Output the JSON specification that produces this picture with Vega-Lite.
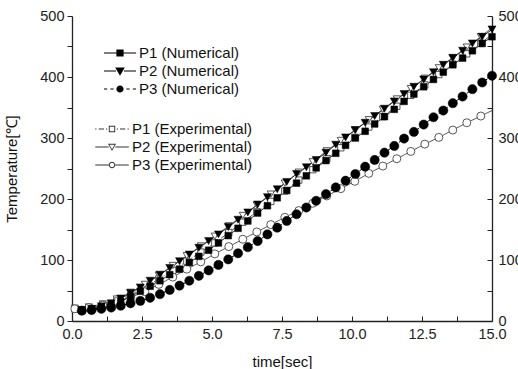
{
  "$schema": "https://vega.github.io/schema/vega-lite/v6.json",
  "width": 420,
  "height": 305,
  "autosize": {"type": "none"},
  "padding": {"left": 72, "top": 16, "right": 26, "bottom": 48},
  "background": "white",
  "config": {
    "view": {"stroke": null},
    "font": "Liberation Sans",
    "axis": {
      "grid": false,
      "domainColor": "#222",
      "domainWidth": 1.3,
      "tickColor": "#222",
      "tickWidth": 1,
      "labelFont": "Liberation Sans",
      "labelFontSize": 14.5,
      "labelColor": "#222",
      "titleFont": "Liberation Sans",
      "titleFontSize": 15,
      "titleFontWeight": "normal",
      "titleColor": "#111"
    }
  },
  "datasets": {
    "num": [
      {"t": 0.35, "P1 (Numerical)": 17, "P2 (Numerical)": 18, "P3 (Numerical)": 17},
      {"t": 0.70, "P1 (Numerical)": 19, "P2 (Numerical)": 20, "P3 (Numerical)": 18},
      {"t": 1.05, "P1 (Numerical)": 22, "P2 (Numerical)": 24, "P3 (Numerical)": 20},
      {"t": 1.40, "P1 (Numerical)": 26, "P2 (Numerical)": 29, "P3 (Numerical)": 22},
      {"t": 1.74, "P1 (Numerical)": 32, "P2 (Numerical)": 37, "P3 (Numerical)": 25},
      {"t": 2.09, "P1 (Numerical)": 40, "P2 (Numerical)": 46, "P3 (Numerical)": 29},
      {"t": 2.44, "P1 (Numerical)": 49, "P2 (Numerical)": 55, "P3 (Numerical)": 33},
      {"t": 2.79, "P1 (Numerical)": 57, "P2 (Numerical)": 66, "P3 (Numerical)": 38},
      {"t": 3.14, "P1 (Numerical)": 66, "P2 (Numerical)": 76, "P3 (Numerical)": 44},
      {"t": 3.49, "P1 (Numerical)": 76, "P2 (Numerical)": 87, "P3 (Numerical)": 51},
      {"t": 3.84, "P1 (Numerical)": 85, "P2 (Numerical)": 98, "P3 (Numerical)": 58},
      {"t": 4.19, "P1 (Numerical)": 96, "P2 (Numerical)": 109, "P3 (Numerical)": 66},
      {"t": 4.53, "P1 (Numerical)": 106, "P2 (Numerical)": 120, "P3 (Numerical)": 74},
      {"t": 4.88, "P1 (Numerical)": 116, "P2 (Numerical)": 131, "P3 (Numerical)": 83},
      {"t": 5.23, "P1 (Numerical)": 128, "P2 (Numerical)": 142, "P3 (Numerical)": 92},
      {"t": 5.58, "P1 (Numerical)": 140, "P2 (Numerical)": 154, "P3 (Numerical)": 101},
      {"t": 5.93, "P1 (Numerical)": 152, "P2 (Numerical)": 166, "P3 (Numerical)": 111},
      {"t": 6.28, "P1 (Numerical)": 164, "P2 (Numerical)": 178, "P3 (Numerical)": 121},
      {"t": 6.63, "P1 (Numerical)": 177, "P2 (Numerical)": 191, "P3 (Numerical)": 131},
      {"t": 6.98, "P1 (Numerical)": 189, "P2 (Numerical)": 203, "P3 (Numerical)": 142},
      {"t": 7.33, "P1 (Numerical)": 202, "P2 (Numerical)": 216, "P3 (Numerical)": 153},
      {"t": 7.67, "P1 (Numerical)": 214, "P2 (Numerical)": 228, "P3 (Numerical)": 164},
      {"t": 8.02, "P1 (Numerical)": 226, "P2 (Numerical)": 241, "P3 (Numerical)": 175},
      {"t": 8.37, "P1 (Numerical)": 238, "P2 (Numerical)": 252, "P3 (Numerical)": 186},
      {"t": 8.72, "P1 (Numerical)": 251, "P2 (Numerical)": 264, "P3 (Numerical)": 197},
      {"t": 9.07, "P1 (Numerical)": 263, "P2 (Numerical)": 276, "P3 (Numerical)": 208},
      {"t": 9.42, "P1 (Numerical)": 275, "P2 (Numerical)": 289, "P3 (Numerical)": 219},
      {"t": 9.77, "P1 (Numerical)": 288, "P2 (Numerical)": 301, "P3 (Numerical)": 230},
      {"t": 10.12, "P1 (Numerical)": 300, "P2 (Numerical)": 313, "P3 (Numerical)": 241},
      {"t": 10.47, "P1 (Numerical)": 311, "P2 (Numerical)": 325, "P3 (Numerical)": 253},
      {"t": 10.81, "P1 (Numerical)": 323, "P2 (Numerical)": 336, "P3 (Numerical)": 264},
      {"t": 11.16, "P1 (Numerical)": 335, "P2 (Numerical)": 348, "P3 (Numerical)": 276},
      {"t": 11.51, "P1 (Numerical)": 347, "P2 (Numerical)": 360, "P3 (Numerical)": 287},
      {"t": 11.86, "P1 (Numerical)": 360, "P2 (Numerical)": 372, "P3 (Numerical)": 299},
      {"t": 12.21, "P1 (Numerical)": 372, "P2 (Numerical)": 384, "P3 (Numerical)": 310},
      {"t": 12.56, "P1 (Numerical)": 384, "P2 (Numerical)": 396, "P3 (Numerical)": 322},
      {"t": 12.91, "P1 (Numerical)": 396, "P2 (Numerical)": 408, "P3 (Numerical)": 334},
      {"t": 13.26, "P1 (Numerical)": 408, "P2 (Numerical)": 420, "P3 (Numerical)": 345},
      {"t": 13.60, "P1 (Numerical)": 420, "P2 (Numerical)": 431, "P3 (Numerical)": 357},
      {"t": 13.95, "P1 (Numerical)": 431, "P2 (Numerical)": 443, "P3 (Numerical)": 368},
      {"t": 14.30, "P1 (Numerical)": 443, "P2 (Numerical)": 455, "P3 (Numerical)": 380},
      {"t": 14.65, "P1 (Numerical)": 455, "P2 (Numerical)": 466, "P3 (Numerical)": 391},
      {"t": 15.00, "P1 (Numerical)": 466, "P2 (Numerical)": 478, "P3 (Numerical)": 402}
    ],
    "exp": [
      {"t": 0.1, "P1 (Experimental)": 20, "P2 (Experimental)": 21, "P3 (Experimental)": 20},
      {"t": 0.6, "P1 (Experimental)": 22, "P2 (Experimental)": 23, "P3 (Experimental)": 22},
      {"t": 1.1, "P1 (Experimental)": 26, "P2 (Experimental)": 28, "P3 (Experimental)": 26},
      {"t": 1.6, "P1 (Experimental)": 33, "P2 (Experimental)": 36, "P3 (Experimental)": 32},
      {"t": 2.1, "P1 (Experimental)": 43, "P2 (Experimental)": 47, "P3 (Experimental)": 39},
      {"t": 2.6, "P1 (Experimental)": 55, "P2 (Experimental)": 60, "P3 (Experimental)": 48},
      {"t": 3.1, "P1 (Experimental)": 69, "P2 (Experimental)": 75, "P3 (Experimental)": 60},
      {"t": 3.6, "P1 (Experimental)": 83, "P2 (Experimental)": 91, "P3 (Experimental)": 72},
      {"t": 4.1, "P1 (Experimental)": 98, "P2 (Experimental)": 107, "P3 (Experimental)": 85},
      {"t": 4.6, "P1 (Experimental)": 113, "P2 (Experimental)": 123, "P3 (Experimental)": 97},
      {"t": 5.1, "P1 (Experimental)": 128, "P2 (Experimental)": 139, "P3 (Experimental)": 110},
      {"t": 5.6, "P1 (Experimental)": 145, "P2 (Experimental)": 156, "P3 (Experimental)": 122},
      {"t": 6.1, "P1 (Experimental)": 162, "P2 (Experimental)": 173, "P3 (Experimental)": 134},
      {"t": 6.6, "P1 (Experimental)": 179, "P2 (Experimental)": 190, "P3 (Experimental)": 146},
      {"t": 7.1, "P1 (Experimental)": 196, "P2 (Experimental)": 208, "P3 (Experimental)": 158},
      {"t": 7.6, "P1 (Experimental)": 213, "P2 (Experimental)": 226, "P3 (Experimental)": 170},
      {"t": 8.1, "P1 (Experimental)": 231, "P2 (Experimental)": 244, "P3 (Experimental)": 181},
      {"t": 8.6, "P1 (Experimental)": 248, "P2 (Experimental)": 261, "P3 (Experimental)": 193},
      {"t": 9.1, "P1 (Experimental)": 266, "P2 (Experimental)": 279, "P3 (Experimental)": 205},
      {"t": 9.6, "P1 (Experimental)": 284, "P2 (Experimental)": 296, "P3 (Experimental)": 217},
      {"t": 10.1, "P1 (Experimental)": 301, "P2 (Experimental)": 313, "P3 (Experimental)": 229},
      {"t": 10.6, "P1 (Experimental)": 318, "P2 (Experimental)": 330, "P3 (Experimental)": 242},
      {"t": 11.1, "P1 (Experimental)": 335, "P2 (Experimental)": 347, "P3 (Experimental)": 254},
      {"t": 11.6, "P1 (Experimental)": 352, "P2 (Experimental)": 364, "P3 (Experimental)": 266},
      {"t": 12.1, "P1 (Experimental)": 370, "P2 (Experimental)": 381, "P3 (Experimental)": 278},
      {"t": 12.6, "P1 (Experimental)": 387, "P2 (Experimental)": 398, "P3 (Experimental)": 290},
      {"t": 13.1, "P1 (Experimental)": 404, "P2 (Experimental)": 415, "P3 (Experimental)": 301},
      {"t": 13.6, "P1 (Experimental)": 421, "P2 (Experimental)": 432, "P3 (Experimental)": 313},
      {"t": 14.1, "P1 (Experimental)": 438, "P2 (Experimental)": 449, "P3 (Experimental)": 325},
      {"t": 14.6, "P1 (Experimental)": 455, "P2 (Experimental)": 466, "P3 (Experimental)": 336},
      {"t": 15.0, "P1 (Experimental)": 470, "P2 (Experimental)": 481, "P3 (Experimental)": 345}
    ]
  },
  "encoding": {
    "x": {
      "field": "t",
      "type": "quantitative",
      "scale": {"domain": [0, 15], "nice": false, "zero": false},
      "axis": {
        "title": "time[sec]",
        "values": [0, 1.25, 2.5, 3.75, 5, 6.25, 7.5, 8.75, 10, 11.25, 12.5, 13.75, 15],
        "labelExpr": "datum.value % 2.5 === 0 ? format(datum.value, '.1f') : ''",
        "tickSize": -5,
        "labelPadding": 11,
        "titlePadding": 14,
        "labelFlush": false,
        "labelOverlap": false
      }
    }
  },
  "layer": [
    {
      "data": {"name": "num"},
      "transform": [{"fold": ["P1 (Numerical)", "P2 (Numerical)", "P3 (Numerical)"], "as": ["s", "v"]}],
      "mark": {"type": "line", "color": "black", "strokeWidth": 1},
      "encoding": {
        "y": {
          "field": "v",
          "type": "quantitative",
          "scale": {"domain": [0, 500], "nice": false},
          "axis": {
            "title": "Temperature[℃]",
            "orient": "left",
            "values": [0, 50, 100, 150, 200, 250, 300, 350, 400, 450, 500],
            "labelExpr": "datum.value % 100 === 0 ? datum.label : ''",
            "tickSize": 5,
            "labelPadding": 3,
            "titlePadding": 20,
            "labelFlush": false,
            "labelOverlap": false
          }
        },
        "strokeDash": {
          "field": "s",
          "type": "nominal",
          "scale": {"domain": ["P1 (Numerical)", "P2 (Numerical)", "P3 (Numerical)"], "range": [[1, 0], [1, 0], [4, 3]]},
          "legend": null
        }
      }
    },
    {
      "data": {"name": "exp"},
      "transform": [{"fold": ["P1 (Experimental)", "P2 (Experimental)", "P3 (Experimental)"], "as": ["s", "v"]}],
      "mark": {"type": "line", "color": "#333", "strokeWidth": 0.9},
      "encoding": {
        "y": {
          "field": "v",
          "type": "quantitative",
          "scale": {"domain": [0, 500], "nice": false},
          "axis": {
            "title": null,
            "orient": "right",
            "values": [0, 50, 100, 150, 200, 250, 300, 350, 400, 450, 500],
            "labelExpr": "datum.value % 100 === 0 ? datum.label : ''",
            "tickSize": -5,
            "labelPadding": 11,
            "labelFlush": false,
            "labelOverlap": false
          }
        },
        "strokeDash": {
          "field": "s",
          "type": "nominal",
          "scale": {"domain": ["P1 (Experimental)", "P2 (Experimental)", "P3 (Experimental)"], "range": [[6, 2, 1, 2], [1, 0], [1, 0]]},
          "legend": null
        }
      }
    },
    {
      "data": {"name": "exp"},
      "transform": [
        {"fold": ["P1 (Experimental)", "P2 (Experimental)", "P3 (Experimental)"], "as": ["s", "v"]},
        {"filter": "datum.t < 14.9"}
      ],
      "mark": {"type": "point", "filled": true, "fill": "white", "stroke": "#444", "strokeWidth": 0.9, "opacity": 1},
      "encoding": {
        "y": {"field": "v", "type": "quantitative", "scale": {"domain": [0, 500], "nice": false}, "axis": null},
        "shape": {
          "field": "s",
          "type": "nominal",
          "scale": {"domain": ["P1 (Experimental)", "P2 (Experimental)", "P3 (Experimental)"], "range": ["square", "triangle-down", "circle"]},
          "legend": null
        },
        "size": {
          "field": "s",
          "type": "nominal",
          "scale": {"domain": ["P1 (Experimental)", "P2 (Experimental)", "P3 (Experimental)"], "range": [40, 64, 45]},
          "legend": null
        }
      }
    },
    {
      "data": {"name": "num"},
      "transform": [{"fold": ["P1 (Numerical)", "P2 (Numerical)", "P3 (Numerical)"], "as": ["s", "v"]}],
      "mark": {"type": "point", "filled": true, "fill": "black", "stroke": "black", "strokeWidth": 0.5, "opacity": 1},
      "encoding": {
        "y": {"field": "v", "type": "quantitative", "scale": {"domain": [0, 500], "nice": false}, "axis": null},
        "shape": {
          "field": "s",
          "type": "nominal",
          "scale": {"domain": ["P1 (Numerical)", "P2 (Numerical)", "P3 (Numerical)"], "range": ["square", "triangle-down", "circle"]},
          "legend": null
        },
        "size": {
          "field": "s",
          "type": "nominal",
          "scale": {"domain": ["P1 (Numerical)", "P2 (Numerical)", "P3 (Numerical)"], "range": [45, 85, 50]},
          "legend": null
        }
      }
    },
    {
      "data": {"name": "num"},
      "transform": [{"fold": ["P1 (Numerical)", "P2 (Numerical)", "P3 (Numerical)"], "as": ["s", "v"]}],
      "mark": {"type": "point", "filled": true, "fill": "black", "opacity": 0},
      "encoding": {
        "y": {"field": "v", "type": "quantitative", "scale": {"domain": [0, 500], "nice": false}, "axis": null},
        "shape": {
          "field": "s",
          "type": "nominal",
          "scale": {
            "domain": ["P1 (Numerical)", "P2 (Numerical)", "P3 (Numerical)"],
            "range": [
              "M-2,-0.065H-0.45V0.065H-2ZM0.45,-0.065H2V0.065H0.45ZM-0.45,-0.45H0.45V0.45H-0.45Z",
              "M-2,-0.065H-0.5V0.065H-2ZM0.5,-0.065H2V0.065H0.5ZM-0.6,-0.45H0.6L0,0.6Z",
              "M-2,-0.065H-1.6V0.065H-2ZM-1.2,-0.065H-0.8V0.065H-1.2ZM0.8,-0.065H1.2V0.065H0.8ZM1.6,-0.065H2V0.065H1.6ZM-0.45,0A0.45,0.45,0,1,1,0.45,0A0.45,0.45,0,1,1,-0.45,0Z"
            ]
          },
          "legend": {
            "orient": "none",
            "legendX": 40,
            "legendY": 29,
            "title": null,
            "padding": 0,
            "symbolSize": 256,
            "symbolFillColor": "black",
            "symbolStrokeColor": "transparent",
            "symbolStrokeWidth": 0,
            "symbolOpacity": 1,
            "labelFont": "Liberation Sans",
            "labelFontSize": 15,
            "labelColor": "#111",
            "labelOffset": 11,
            "rowPadding": 2
          }
        }
      }
    },
    {
      "data": {"name": "exp"},
      "transform": [{"fold": ["P1 (Experimental)", "P2 (Experimental)", "P3 (Experimental)"], "as": ["s", "v"]}],
      "mark": {"type": "point", "filled": true, "fill": "#333", "opacity": 0},
      "encoding": {
        "y": {"field": "v", "type": "quantitative", "scale": {"domain": [0, 500], "nice": false}, "axis": null},
        "shape": {
          "field": "s",
          "type": "nominal",
          "scale": {
            "domain": ["P1 (Experimental)", "P2 (Experimental)", "P3 (Experimental)"],
            "range": [
              "M-2.1,-0.06H-1.95V0.06H-2.1ZM-1.65,-0.06H-1.0V0.06H-1.65ZM-0.75,-0.06H-0.6V0.06H-0.75ZM0.6,-0.06H0.75V0.06H0.6ZM1.0,-0.06H1.65V0.06H1.0ZM1.95,-0.06H2.1V0.06H1.95ZM-0.4,-0.4H0.4V0.4H-0.4ZM-0.28,-0.28V0.28H0.28V-0.28Z",
              "M-2.1,-0.06H-0.42V0.06H-2.1ZM0.42,-0.06H2.1V0.06H0.42ZM-0.5,-0.4H0.5L0,0.5ZM-0.32,-0.29L0,0.28L0.32,-0.29Z",
              "M-2.1,-0.06H-0.4V0.06H-2.1ZM0.4,-0.06H2.1V0.06H0.4ZM-0.4,0A0.4,0.4,0,1,1,0.4,0A0.4,0.4,0,1,1,-0.4,0ZM-0.28,0A0.28,0.28,0,1,0,0.28,0A0.28,0.28,0,1,0,-0.28,0Z"
            ]
          },
          "legend": {
            "orient": "none",
            "legendX": 32,
            "legendY": 105,
            "title": null,
            "padding": 0,
            "symbolSize": 256,
            "symbolFillColor": "#333",
            "symbolStrokeColor": "transparent",
            "symbolStrokeWidth": 0,
            "symbolOpacity": 1,
            "labelFont": "Liberation Sans",
            "labelFontSize": 15,
            "labelColor": "#111",
            "labelOffset": 12,
            "rowPadding": 2
          }
        }
      }
    }
  ],
  "resolve": {
    "scale": {"shape": "independent", "strokeDash": "independent", "size": "independent"},
    "axis": {"y": "independent"}
  }
}
